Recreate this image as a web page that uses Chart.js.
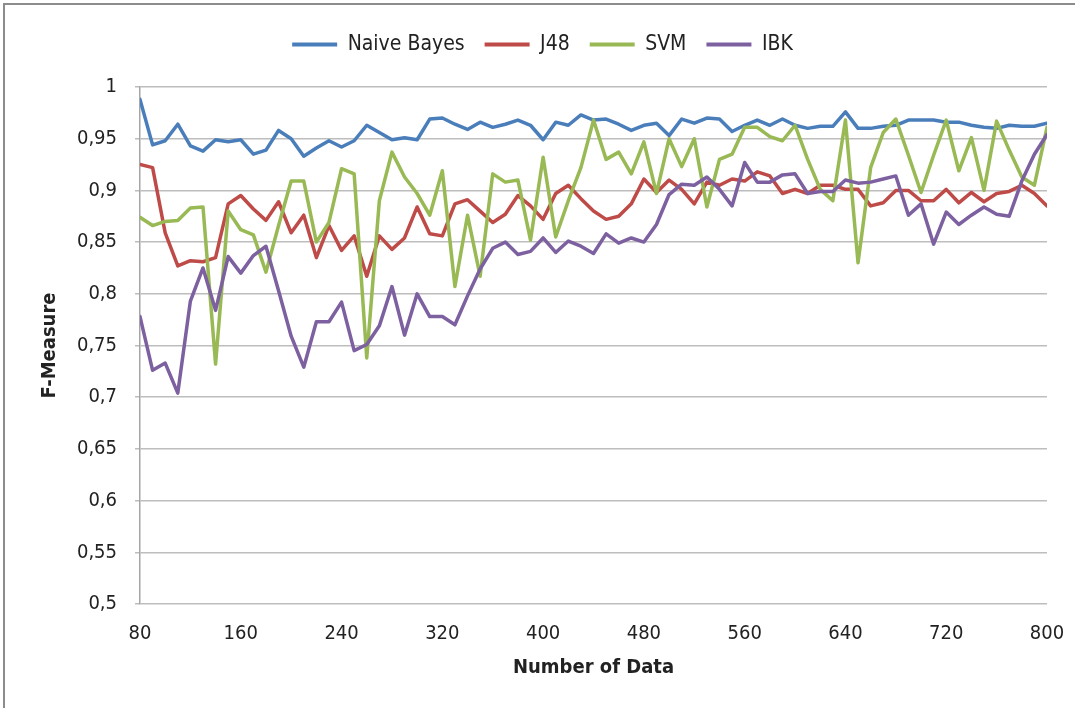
<!DOCTYPE html>
<html><head><meta charset="utf-8">
<script src="https://cdn.jsdelivr.net/npm/chart.js@4.4.1/dist/chart.umd.min.js"></script>
<style>
html,body{margin:0;padding:0;background:#fff;}
#wrap{position:relative;width:1075px;height:708px;overflow:hidden;}
#frame{position:absolute;left:3px;top:3px;width:1100px;height:740px;border-left:2px solid #8c8c8c;border-top:2px solid #8c8c8c;pointer-events:none;}
canvas{display:block;}
</style></head><body>
<div id="wrap"><canvas id="c" width="1075" height="708"></canvas><div id="frame"></div></div>
<script>
const categories = [80,90,100,110,120,130,140,150,160,170,180,190,200,210,220,230,240,250,260,270,280,290,300,310,320,330,340,350,360,370,380,390,400,410,420,430,440,450,460,470,480,490,500,510,520,530,540,550,560,570,580,590,600,610,620,630,640,650,660,670,680,690,700,710,720,730,740,750,760,770,780,790,800];
const naiveBayes = [0.988,0.944,0.948,0.964,0.943,0.938,0.949,0.947,0.949,0.935,0.939,0.958,
 0.950,0.933,0.941,0.948,0.942,0.948,0.963,0.956,0.949,0.951,0.949,0.969,
 0.970,0.964,0.959,0.966,0.961,0.964,0.968,0.963,0.949,0.966,0.963,0.973,
 0.968,0.969,0.964,0.958,0.963,0.965,0.953,0.969,0.965,0.970,0.969,0.957,
 0.963,0.968,0.963,0.969,0.963,0.960,0.962,0.962,0.976,0.960,0.960,0.962,
 0.963,0.968,0.968,0.968,0.966,0.966,0.963,0.961,0.960,0.963,0.962,0.962,0.965];
const j48 = [0.925,0.922,0.859,0.827,0.832,0.831,0.835,0.887,0.895,0.882,0.871,0.889,
 0.859,0.876,0.835,0.866,0.842,0.856,0.817,0.856,0.843,0.854,0.884,0.858,
 0.856,0.887,0.891,0.880,0.869,0.877,0.895,0.885,0.872,0.897,0.905,0.892,
 0.880,0.872,0.875,0.887,0.911,0.898,0.910,0.901,0.887,0.908,0.905,0.911,
 0.909,0.918,0.914,0.897,0.901,0.897,0.905,0.905,0.901,0.901,0.885,0.888,
 0.900,0.900,0.890,0.890,0.901,0.888,0.898,0.889,0.897,0.899,0.905,0.897,0.885];
const svm = [0.874,0.866,0.870,0.871,0.883,0.884,0.732,0.880,0.862,0.857,0.821,0.866,
 0.909,0.909,0.850,0.869,0.921,0.916,0.738,0.890,0.937,0.913,0.897,0.876,
 0.919,0.807,0.876,0.817,0.916,0.908,0.910,0.852,0.932,0.855,0.890,0.922,
 0.968,0.930,0.937,0.916,0.947,0.897,0.950,0.923,0.950,0.884,0.930,0.935,
 0.961,0.961,0.952,0.948,0.963,0.930,0.901,0.890,0.968,0.830,0.922,0.956,
 0.969,0.934,0.898,0.934,0.968,0.919,0.951,0.900,0.967,0.939,0.913,0.905,0.961];
const ibk = [0.778,0.726,0.733,0.704,0.793,0.825,0.784,0.836,0.820,0.837,0.846,0.803,
 0.759,0.729,0.773,0.773,0.792,0.745,0.751,0.769,0.807,0.760,0.800,0.778,
 0.778,0.770,0.798,0.824,0.844,0.850,0.838,0.841,0.854,0.840,0.851,0.846,
 0.839,0.858,0.849,0.854,0.850,0.867,0.896,0.906,0.905,0.913,0.901,0.885,
 0.927,0.908,0.908,0.915,0.916,0.897,0.899,0.899,0.910,0.907,0.908,0.911,
 0.914,0.876,0.887,0.848,0.879,0.867,0.876,0.884,0.877,0.875,0.909,0.935,0.954];
const seriesNames = ['Naive Bayes','J48','SVM','IBK'];
const xTickValues = [80,160,240,320,400,480,560,640,720,800];
const yTickValues = [0.5,0.55,0.6,0.65,0.7,0.75,0.8,0.85,0.9,0.95,1];
const yTickLabels = ['0,5','0,55','0,6','0,65','0,7','0,75','0,8','0,85','0,9','0,95','1'];

const FONT = '"DejaVu Sans Condensed", "Liberation Sans Narrow", "Noto Sans", sans-serif';
const colors = ['#4a7ebb','#be4b48','#98b954','#7d60a0'];
const seriesData = [naiveBayes, j48, svm, ibk];

const legendSpacer = {
  id: 'legendSpacer',
  afterInit(chart) {
    const fit = chart.legend.fit;
    chart.legend.fit = function () { fit.call(this); this.height += 22; };
  }
};

new Chart(document.getElementById('c'), {
  type: 'line',
  data: {
    datasets: seriesNames.map((name, k) => ({
      label: name,
      data: categories.map((x, i) => ({ x: x, y: seriesData[k][i] })),
      borderColor: colors[k],
      backgroundColor: colors[k],
      borderWidth: 3.5,
      pointRadius: 0,
      tension: 0,
      order: 4 - k,
      borderCapStyle: 'round',
      borderJoinStyle: 'round'
    }))
  },
  options: {
    responsive: false,
    animation: false,
    devicePixelRatio: 1,
    layout: { padding: { top: 14, left: 38, right: 28, bottom: 28 } },
    plugins: {
      tooltip: { enabled: false },
      legend: {
        position: 'top',
        labels: {
          boxWidth: 45, boxHeight: 4, padding: 20, color: '#222',
          font: { family: FONT, size: 21 },
          sort: (a, b) => a.datasetIndex - b.datasetIndex,
          generateLabels: (chart) => {
            const items = Chart.defaults.plugins.legend.labels.generateLabels(chart);
            items.forEach(it => { it.lineWidth = 0; it.fillStyle = it.strokeStyle; });
            return items;
          }
        }
      }
    },
    scales: {
      x: {
        type: 'linear', min: 80, max: 800,
        afterBuildTicks: s => { s.ticks = xTickValues.map(v => ({ value: v })); },
        afterFit: s => { s.height = 76; s.paddingRight = 0; s.paddingLeft = 0; },
        grid: { display: false, drawTicks: false },
        border: { display: false },
        ticks: { padding: 18, color: '#222', font: { family: FONT, size: 20 }, maxRotation: 0, autoSkip: false },
        title: { display: true, text: 'Number of Data', color: '#222', font: { family: FONT, size: 20, weight: 'bold' }, padding: { top: 0, bottom: 0 } }
      },
      y: {
        min: 0.5, max: 1,
        afterBuildTicks: s => { s.ticks = yTickValues.map(v => ({ value: v })); },
        afterFit: s => { s.width = 102; },
        grid: { color: '#bdbdbd', lineWidth: 1.5, tickLength: 5 },
        border: { color: '#a6a6a6', width: 1.5 },
        ticks: {
          padding: 18, color: '#222', font: { family: FONT, size: 20 },
          callback: (v) => { const i = yTickValues.findIndex(t => Math.abs(t - v) < 1e-9); return i >= 0 ? yTickLabels[i] : ''; }
        },
        title: { display: true, text: 'F-Measure', color: '#222', font: { family: FONT, size: 20, weight: 'bold' }, padding: { top: 0, bottom: 2 } }
      }
    }
  },
  plugins: [legendSpacer]
});
</script>
</body></html>
